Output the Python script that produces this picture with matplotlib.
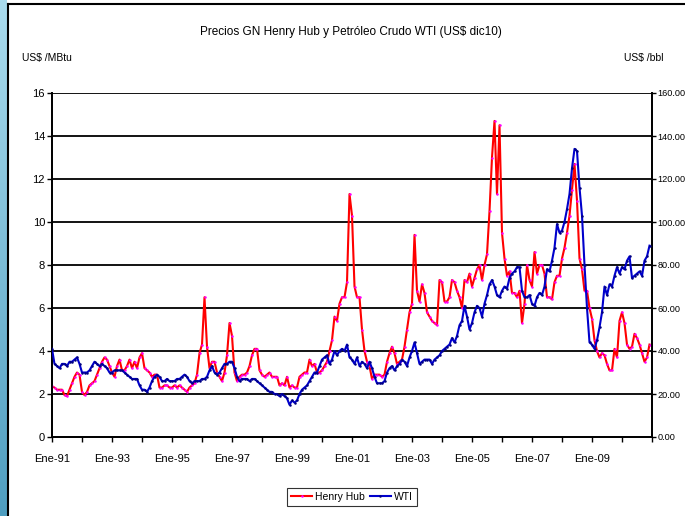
import matplotlib
matplotlib.use("Agg")
import matplotlib.pyplot as plt
import numpy as np

plt.rcParams['font.family'] = ['Liberation Sans', 'DejaVu Sans']

# monthly data, Ene-91 .. Dic-10
henry_hub = [
    2.35, 2.3, 2.2, 2.2, 2.2, 1.95, 1.9, 2.2, 2.5, 2.8, 3.0, 2.9,      # 1991
    2.1, 1.95, 2.1, 2.4, 2.5, 2.6, 2.9, 3.2, 3.5, 3.7, 3.6, 3.3,       # 1992
    3.0, 2.8, 3.3, 3.6, 3.1, 3.1, 3.3, 3.6, 3.2, 3.5, 3.2, 3.7,        # 1993
    3.9, 3.2, 3.1, 3.0, 2.8, 2.9, 2.9, 2.3, 2.3, 2.4, 2.4, 2.3,        # 1994
    2.3, 2.4, 2.3, 2.4, 2.3, 2.2, 2.1, 2.3, 2.4, 2.5, 2.9, 3.9,        # 1995
    4.3, 6.5, 4.2, 3.2, 3.5, 3.5, 3.0, 2.8, 2.6, 3.0, 3.8, 5.3,        # 1996
    4.7, 3.0, 2.6, 2.8, 2.9, 2.9, 3.0, 3.3, 3.8, 4.1, 4.1, 3.1,        # 1997
    2.9, 2.8, 2.9, 3.0, 2.8, 2.8, 2.8, 2.4, 2.5, 2.4, 2.8, 2.3,        # 1998
    2.4, 2.3, 2.3, 2.8, 2.9, 3.0, 3.0, 3.6, 3.3, 3.4, 3.0, 3.0,        # 1999
    3.1, 3.3, 3.5, 4.0, 4.5, 5.6, 5.4, 6.2, 6.5, 6.5, 7.2, 11.3,       # 2000
    10.3, 7.0, 6.5, 6.5, 5.0, 4.0, 3.5, 3.3, 2.7, 2.9, 2.9, 2.9,       # 2001
    2.8, 2.9, 3.5, 3.9, 4.2, 3.9, 3.4, 3.5, 3.6, 4.2, 5.0, 5.8,        # 2002
    6.2, 9.4, 6.8, 6.3, 7.1, 6.7, 5.8, 5.6, 5.4, 5.3, 5.2, 7.3,        # 2003
    7.2, 6.3, 6.3, 6.5, 7.3, 7.2, 6.8, 6.5, 6.0, 7.3, 7.2, 7.6,        # 2004
    7.0, 7.4, 7.8, 8.0, 7.3, 8.0, 8.5, 10.5, 13.0, 14.7, 11.3, 14.5,   # 2005
    9.5, 8.3, 7.5, 7.7, 6.7, 6.7, 6.5, 6.8, 5.3, 6.2, 8.0, 7.3,        # 2006
    7.0, 8.6, 7.6, 8.0, 8.0, 7.6, 6.5, 6.5, 6.4, 7.2, 7.5, 7.5,        # 2007
    8.3, 8.8, 9.5, 10.3, 11.5, 12.7, 11.0, 8.3, 7.8, 6.8, 6.8, 6.0,    # 2008
    5.5, 4.5, 4.0, 3.7, 3.9, 3.8, 3.4, 3.1, 3.1, 4.1, 3.7, 5.4,        # 2009
    5.8, 5.3, 4.3, 4.1, 4.2, 4.8, 4.6, 4.3, 3.9, 3.5, 3.7, 4.3,        # 2010
]

wti = [
    41, 34, 33, 32, 34, 34, 33, 35, 35, 36, 37, 34,          # 1991
    30, 30, 30, 31, 33, 35, 34, 33, 34, 33, 32, 30,          # 1992
    30, 31, 31, 31, 31, 30, 29, 28, 27, 27, 27, 24,          # 1993
    22, 22, 21, 23, 26, 28, 29, 28, 26, 26, 27, 26,          # 1994
    26, 26, 27, 27, 28, 29, 28, 26, 25, 26, 26, 26,          # 1995
    27, 27, 28, 31, 33, 30, 29, 30, 32, 34, 34, 35,          # 1996
    35, 32, 28, 26, 27, 27, 27, 26, 27, 27, 26, 25,          # 1997
    24, 23, 22, 21, 21, 20, 20, 19, 20, 19, 18, 15,          # 1998
    17, 16, 17, 20, 22, 23, 24, 26, 28, 30, 30, 33,          # 1999
    36, 37, 38, 34, 36, 40, 38, 40, 41, 40, 43, 37,          # 2000
    36, 34, 37, 33, 35, 34, 32, 35, 32, 28, 25, 25,          # 2001
    25, 26, 30, 32, 33, 31, 33, 34, 36, 35, 33, 37,          # 2002
    40, 44, 39, 34, 35, 36, 36, 36, 34, 36, 37, 38,          # 2003
    40, 41, 42, 43, 46, 44, 47, 52, 54, 61, 56, 50,          # 2004
    53, 58, 61, 60, 56, 62, 66, 71, 73, 70, 66, 65,          # 2005
    68, 70, 69, 74, 76, 77, 79, 79, 68, 65, 65, 66,          # 2006
    62, 61, 65, 67, 66, 70, 78, 77, 82, 88, 99, 95,          # 2007
    96, 100, 106, 113, 125, 134, 133, 116, 103, 80, 60, 44,  # 2008
    43, 41, 45, 51, 58, 70, 66, 71, 70, 75, 79, 76,          # 2009
    79, 78, 82, 84, 74, 75, 76, 77, 75, 82, 84, 89,          # 2010
]

tick_labels = ['Ene-91', 'Ene-93', 'Ene-95', 'Ene-97', 'Ene-99',
               'Ene-01', 'Ene-03', 'Ene-05', 'Ene-07', 'Ene-09']

months = np.arange(len(henry_hub))

fig = plt.figure(figsize=(6.85, 5.16), dpi=100)

# slide frame: blue gradient strip on the left + black border
strip = fig.add_axes([0, 0, 7 / 685, 1])
grad = np.linspace(0, 1, 256).reshape(-1, 1)
cmap = matplotlib.colors.LinearSegmentedColormap.from_list('strip', ['#aadcee', '#4f9ec0'])
strip.imshow(grad, aspect='auto', cmap=cmap, extent=[0, 1, 0, 1], origin='upper')
strip.axis('off')
fig.add_artist(plt.Line2D([7.5 / 685, 7.5 / 685], [0, 1 - 4 / 516], color='black', lw=1.5))
fig.add_artist(plt.Line2D([7.5 / 685, 1], [1 - 4 / 516, 1 - 4 / 516], color='black', lw=1.5))

ax = fig.add_axes([52 / 685, 1 - 437 / 516, 600 / 685, 344 / 516])
ax2 = ax.twinx()

ax.plot(months, henry_hub, color='#ff0000', lw=1.5, marker='.', ms=1.6,
        mfc='#ff00ff', mec='#ff00ff', label='Henry Hub', zorder=3)
ax2.plot(months, wti, color='#0000cc', lw=1.5, marker='.', ms=1.6,
         mfc='#000080', mec='#000080', label='WTI', zorder=3)

ax.set_ylim(0, 16)
ax.set_yticks(range(0, 17, 2))
ax2.set_ylim(0, 160)
ax2.set_yticks(range(0, 161, 20))
ax2.set_yticklabels([f'{v:.2f}' for v in range(0, 161, 20)])
ax.set_xlim(0, 240)
ax.set_xticks(range(0, 241, 12))
ax.set_xticklabels([tick_labels[i // 2] if i % 2 == 0 and i < 20 else '' for i in range(21)])

for y in range(2, 17, 2):
    ax.axhline(y, color='black', lw=1.3, zorder=1)

for a in (ax, ax2):
    a.tick_params(labelsize=8, length=3.5, width=1, direction='out', pad=1.5)
    a.spines['top'].set_visible(False)
    for s in ('left', 'right', 'bottom'):
        a.spines[s].set_linewidth(1.3)
ax.tick_params(axis='x', pad=9)
ax2.tick_params(axis='y', labelsize=6.6, length=3, pad=1)

fig.text(0.512, 1 - 32 / 516, 'Precios GN Henry Hub y Petróleo Crudo WTI (US$ dic10)',
         ha='center', va='center', fontsize=8.5)
fig.text(22 / 685, 1 - 58 / 516, 'US$ /MBtu', ha='left', va='center', fontsize=7.5)
fig.text(663 / 685, 1 - 58 / 516, 'US$ /bbl', ha='right', va='center', fontsize=7.5)

h1, l1 = ax.get_legend_handles_labels()
h2, l2 = ax2.get_legend_handles_labels()
leg = fig.legend(h1 + h2, l1 + l2, loc='center', bbox_to_anchor=(352 / 685, 1 - 497 / 516),
                 ncol=2, fontsize=7.5, frameon=True, fancybox=False, handlelength=2.0,
                 handletextpad=0.3, columnspacing=0.5, borderpad=0.4)
leg.get_frame().set_edgecolor('black')
leg.get_frame().set_linewidth(0.8)

fig.savefig('out.png', dpi=100)
